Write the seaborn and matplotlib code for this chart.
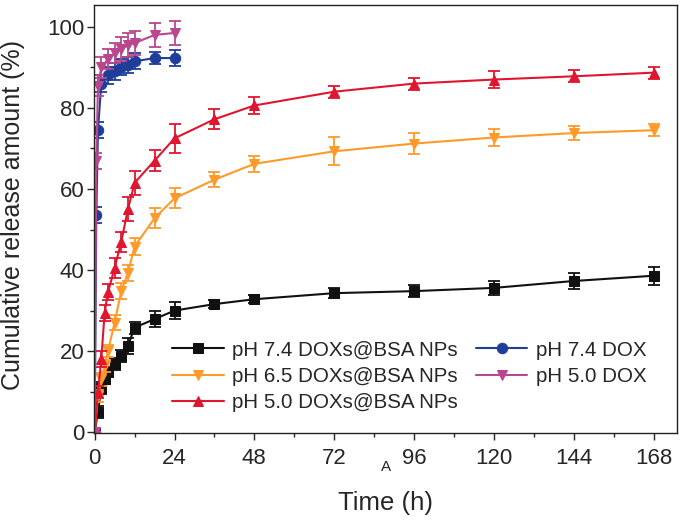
import numpy as np
import pandas as pd
import matplotlib
matplotlib.use("Agg")
import matplotlib.pyplot as plt
from matplotlib.ticker import MultipleLocator
import seaborn as sns

# Release data
t_np = [0, 1, 2, 3, 4, 6, 8, 10, 12, 18, 24, 36, 48, 72, 96, 120, 144, 168]
ph74_np = [0, 5, 11, 13, 14.8, 16.8, 18.8, 21.3, 25.8, 27.9, 30, 31.6, 32.8, 34.3, 34.8, 35.6, 37.3, 38.6]
ph74_np_err = [0, 1.5, 1.5, 1.2, 1.2, 1.5, 1.5, 2, 1.5, 2, 2, 1, 1, 1.2, 1.5, 1.8, 2, 2.2]
ph65_np = [0, 9, 13, 16.4, 20, 27, 34.8, 39.3, 45.8, 52.8, 57.7, 62.3, 66.2, 69.3, 71.2, 72.7, 73.8, 74.5]
ph65_np_err = [0, 1.5, 1.5, 1.5, 1.5, 1.8, 2, 2, 2, 2.5, 2.5, 1.8, 2, 3.5, 2.5, 2, 1.8, 1.5]
ph50_np = [0, 10, 18, 29.5, 34.5, 40.5, 47, 55, 61.5, 67, 72.5, 77.2, 80.6, 84, 86, 87, 87.8, 88.7]
ph50_np_err = [0, 1.5, 2, 2, 2, 2.5, 2.5, 3, 3, 2.5, 3.5, 2.5, 2, 1.5, 1.5, 2, 1.5, 1.5]

t_dox = [0, 0.5, 1, 2, 4, 6, 8, 10, 12, 18, 24]
ph74_dox = [0, 53.5, 74.5, 86, 88, 89, 90, 90.5, 91.5, 92.3, 92.3]
ph74_dox_err = [0, 2, 2, 2, 2, 2, 2, 2, 2, 1.5, 2]
ph50_dox = [0, 67, 85.5, 90, 92, 93.5, 94.5, 95.5, 96, 98, 98.5]
ph50_dox_err = [0, 2, 2.5, 2.5, 2.5, 2.5, 3, 3, 3, 3, 3]

series = [
    ("pH 7.4 DOXs@BSA NPs", t_np, ph74_np, ph74_np_err, "#111111", "s"),
    ("pH 6.5 DOXs@BSA NPs", t_np, ph65_np, ph65_np_err, "#FF9A2A", "v"),
    ("pH 5.0 DOXs@BSA NPs", t_np, ph50_np, ph50_np_err, "#E0152F", "^"),
    ("pH 7.4 DOX", t_dox, ph74_dox, ph74_dox_err, "#1F3E9A", "o"),
    ("pH 5.0 DOX", t_dox, ph50_dox, ph50_dox_err, "#B9468F", "v"),
]

sns.set_style("ticks")
plt.rcParams['font.family'] = ['Liberation Sans', 'DejaVu Sans']

fig = plt.figure(figsize=(6.83, 5.22), dpi=100)
ax = fig.add_axes([0.1376, 0.1705, 0.8536, 0.82])

for label, t, y, err, color, mk in series:
    df = pd.DataFrame({'t': t, 'y': y})
    sns.lineplot(data=df, x='t', y='y', ax=ax, color=color, marker=mk,
                 markersize=7.5, markeredgecolor=color, linewidth=1.5,
                 label=label)
    ax.errorbar(t, y, yerr=err, fmt='none', ecolor=color, elinewidth=1.3,
                capsize=4.5, capthick=1.3)

ax.set_xlim(-0.2, 175)
ax.set_ylim(-0.2, 105.4)
ax.set_xticks(np.arange(0, 169, 24))
ax.xaxis.set_minor_locator(MultipleLocator(12))
ax.set_yticks(np.arange(0, 101, 20))
ax.yaxis.set_minor_locator(MultipleLocator(10))
ax.tick_params(axis='both', which='major', labelsize=16, length=5, width=1, direction='out')
ax.tick_params(axis='x', which='major', pad=6)
ax.tick_params(axis='y', which='major', pad=2)
ax.tick_params(axis='both', which='minor', length=3, width=1, direction='out')
for s in ax.spines.values():
    s.set_linewidth(1)
    s.set_color('#222222')

ax.set_xlabel('Time (h)', fontsize=18.5)
ax.xaxis.set_label_coords(0.5, -0.135)
ax.set_ylabel('Cumulative release amount (%)', fontsize=18)
ax.yaxis.set_label_coords(-0.118, 0.51)

ax.legend(ncol=2, loc='upper left', bbox_to_anchor=(0.12, 0.235), frameon=False,
          fontsize=14.8, handlelength=2.5, handletextpad=0.4, labelspacing=0.35,
          columnspacing=0.9, borderaxespad=0)

fig.text(386 / 683, 1 - 467 / 522, 'A', fontsize=11, ha='center', va='center')

fig.savefig('out.png', dpi=100)
